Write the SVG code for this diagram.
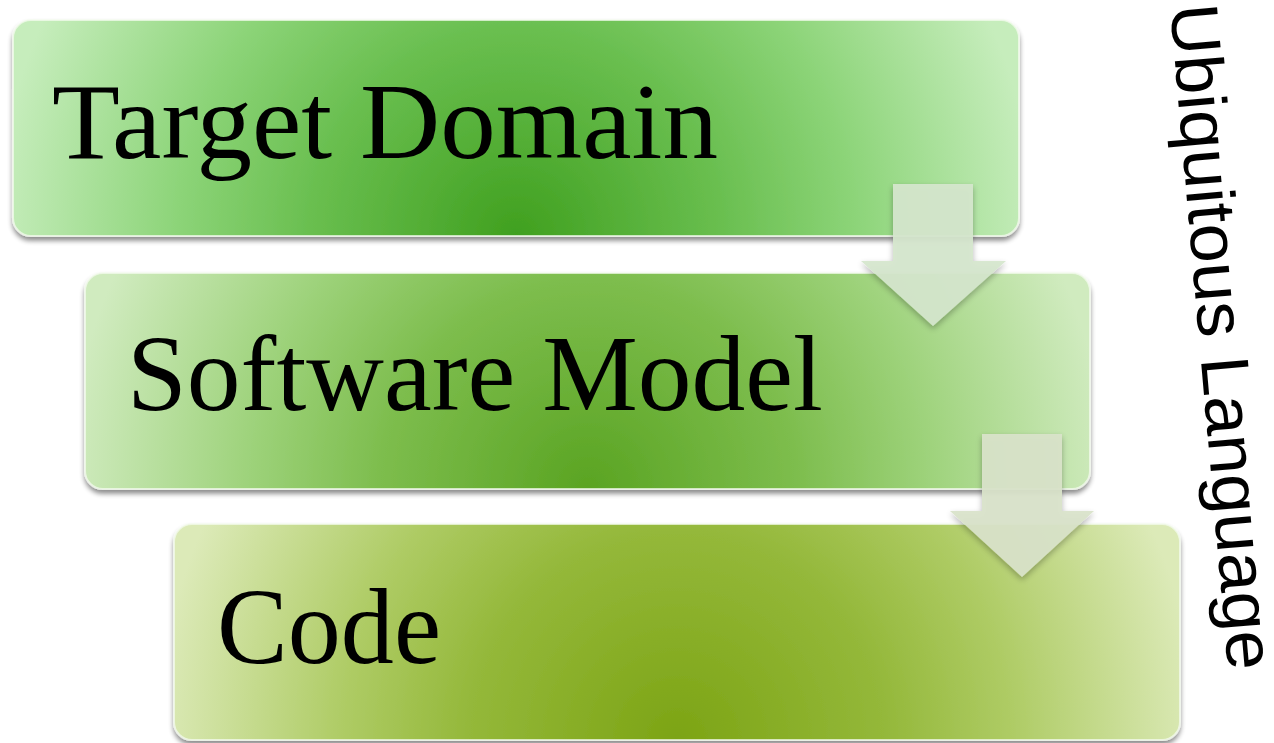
<svg xmlns="http://www.w3.org/2000/svg" width="1274" height="743" viewBox="0 0 1274 743">
<style>
.box{stroke:#f4fbef;stroke-opacity:0.75;stroke-width:2;filter:url(#sh)}
.lbl{font-family:"Liberation Serif","Times New Roman",serif;font-size:107px;fill:#000}
.arr{filter:url(#ash)}
.side{font-family:"Liberation Sans",Arial,sans-serif;font-size:68px;fill:#000}
</style>
<defs>
<filter id="sh" x="-5%" y="-10%" width="110%" height="125%">
<feGaussianBlur in="SourceAlpha" stdDeviation="2.5"/>
<feOffset dx="0" dy="4" result="b"/>
<feComponentTransfer><feFuncA type="linear" slope="0.45"/></feComponentTransfer>
<feMerge><feMergeNode/><feMergeNode in="SourceGraphic"/></feMerge>
</filter>
<filter id="ash" x="-20%" y="-20%" width="140%" height="140%">
<feGaussianBlur in="SourceAlpha" stdDeviation="3"/>
<feOffset dx="0" dy="3"/>
<feComponentTransfer><feFuncA type="linear" slope="0.3"/></feComponentTransfer>
<feMerge><feMergeNode/><feMergeNode in="SourceGraphic"/></feMerge>
</filter>
<radialGradient id="g1" gradientUnits="userSpaceOnUse" cx="516" cy="236" r="520">
<stop offset="0" stop-color="#40a01f"/>
<stop offset="0.4" stop-color="#6abf50"/>
<stop offset="0.65" stop-color="#8cd478"/>
<stop offset="1" stop-color="#c6edbc"/>
</radialGradient>
<radialGradient id="g2" gradientUnits="userSpaceOnUse" cx="588" cy="489" r="520">
<stop offset="0" stop-color="#5aa422"/>
<stop offset="0.4" stop-color="#7dbd4d"/>
<stop offset="0.65" stop-color="#9dd27a"/>
<stop offset="1" stop-color="#d0ebbf"/>
</radialGradient>
<radialGradient id="g3" gradientUnits="userSpaceOnUse" cx="677" cy="740" r="520">
<stop offset="0" stop-color="#7ca414"/>
<stop offset="0.4" stop-color="#94b83a"/>
<stop offset="0.65" stop-color="#afcc66"/>
<stop offset="1" stop-color="#dceab8"/>
</radialGradient>
</defs>
<g id="node-target-domain">
<rect class="box" x="13" y="20" width="1006" height="216" rx="18" fill="url(#g1)"/>
<text class="lbl" x="52" y="158" textLength="666" lengthAdjust="spacingAndGlyphs">Target Domain</text>
</g>
<g id="node-software-model">
<rect class="box" x="85" y="273" width="1005" height="216" rx="18" fill="url(#g2)"/>
<text class="lbl" x="127" y="410" textLength="696" lengthAdjust="spacingAndGlyphs">Software Model</text>
</g>
<g id="node-code">
<rect class="box" x="174" y="524" width="1006" height="216" rx="18" fill="url(#g3)"/>
<text class="lbl" x="217" y="663" textLength="224" lengthAdjust="spacingAndGlyphs">Code</text>
</g>
<g id="connectors">
<polygon class="arr" points="893,184 973,184 973,261 1006,261 933,326 861,261 893,261" fill="#d5e6cd" fill-opacity="0.93"/>
<polygon class="arr" points="982,434 1062,434 1062,511 1094,511 1022,577 950,511 982,511" fill="#d9e3ca" fill-opacity="0.93"/>
</g>
<g id="label-ubiquitous-language">
<text class="side" transform="translate(1170,6) rotate(85)" textLength="668" lengthAdjust="spacingAndGlyphs">Ubiquitous Language</text>
</g>
</svg>
